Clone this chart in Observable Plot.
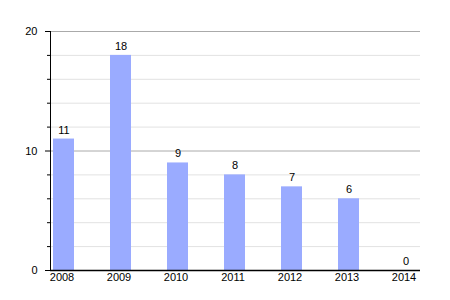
<!DOCTYPE html>
<html>
<head>
<meta charset="utf-8">
<script src="https://cdn.jsdelivr.net/npm/d3@7"></script>
<script src="https://cdn.jsdelivr.net/npm/@observablehq/plot@0.6"></script>
<style>
body { margin: 0; background: #fff; }
</style>
</head>
<body>
<div id="chart"></div>
<script>
const years = ["2008", "2009", "2010", "2011", "2012", "2013", "2014"];
const counts = [11, 18, 9, 8, 7, 6, 0];
const majorTicks = [0, 10, 20];
const minorTicks = [2, 4, 6, 8, 12, 14, 16, 18];

const data = years.map((y, i) => ({year: y, count: counts[i]}));

const chart = Plot.plot({
  width: 450,
  height: 300,
  marginLeft: 50,
  marginRight: 30,
  marginTop: 31,
  marginBottom: 30,
  style: {fontFamily: "Liberation Sans, Arial, sans-serif", fontSize: "11px", color: "#000", background: "#fff"},
  x: {type: "band", domain: years, range: [13, 456], padding: 0.638, label: null},
  y: {domain: [0, 20], label: null},
  marks: [
    Plot.ruleY(minorTicks, {stroke: "#e2e2e2", strokeWidth: 1}),
    Plot.ruleY([10, 20], {stroke: "#aaaaaa", strokeWidth: 1}),
    Plot.barY(data, {x: "year", y: "count", fill: "#9aabff"}),
    Plot.text(data, {x: "year", y: "count", text: d => String(d.count), dy: -9, fill: "#000", fontSize: 11}),
    Plot.axisY(minorTicks, {tickSize: 3, tickFormat: () => "", stroke: "#000"}),
    Plot.axisY(majorTicks, {tickSize: 5, tickPadding: 8, fill: "#000", stroke: "#000", fontSize: 11}),
    Plot.axisX({tickSize: 0, tickPadding: 3, dx: -2, fill: "#000", fontSize: 11}),
    Plot.frame({anchor: "left", stroke: "#000"}),
    Plot.ruleY([0], {stroke: "#000", strokeWidth: 1.5})
  ]
});
document.getElementById("chart").appendChild(chart);
</script>
</body>
</html>
